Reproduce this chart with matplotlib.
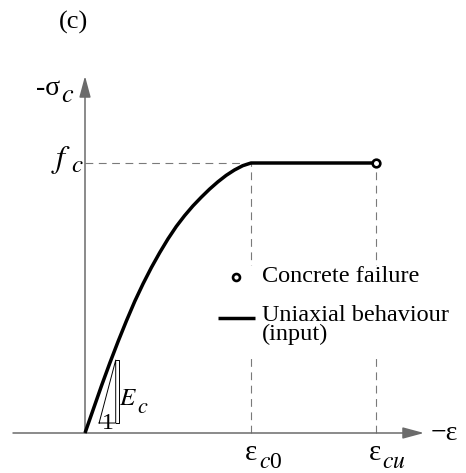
import matplotlib
matplotlib.use("Agg")
import matplotlib.pyplot as plt
from matplotlib.patches import Rectangle

plt.rcParams['font.family'] = ['Liberation Serif', 'DejaVu Serif']
plt.rcParams['mathtext.fontset'] = 'stix'

# uniaxial concrete law, strain in permille, stress normalised by f_c
strain = [0.0, 0.1, 0.2, 0.3, 0.4, 0.5, 0.6, 0.7, 0.8, 0.9, 1.0,
          1.1, 1.2, 1.3, 1.4, 1.5, 1.6, 1.7, 1.8, 1.9, 2.0, 3.5]
stress = [0.0, 0.088, 0.176, 0.26, 0.34, 0.416, 0.488, 0.553, 0.613, 0.668, 0.719,
          0.765, 0.805, 0.841, 0.873, 0.903, 0.93, 0.954, 0.974, 0.99, 1.0, 1.0]
eps_c0 = 2.0
eps_cu = 3.5
f_c = 1.0

# small stiffness triangle next to the initial branch
tri_eps = [0.17, 0.37, 0.37, 0.17]
tri_sig = [0.037, 0.27, 0.037, 0.037]

W, H = 466, 473
X0, SX = 85.0, 83.0     # pixel of zero strain, pixels per permille
Y0, SY = 433.0, 270.0   # pixel of zero stress, pixels per f_c


def px(x, y):
    return (x - X0) / SX, (Y0 - y) / SY


axis_col = '#6b6b6b'
dash_col = '#7a7a7a'

fig = plt.figure(figsize=(W / 100, H / 100), dpi=100)
ax = fig.add_axes([0, 0, 1, 1])
ax.set_xlim(px(0, 0)[0], px(W, 0)[0])
ax.set_ylim(px(0, H)[1], px(0, 0)[1])
ax.axis('off')

# axes with arrow heads
arr = dict(arrowstyle='-|>,head_length=1.3,head_width=0.35', color=axis_col,
           lw=1.1, shrinkA=0, shrinkB=0, mutation_scale=10)
ax.annotate('', xy=(px(424, 0)[0], 0), xytext=(px(13, 0)[0], 0), arrowprops=arr)
ax.annotate('', xy=(0, px(0, 76)[1]), xytext=(0, 0), arrowprops=arr)

# guide lines
dash = dict(color=dash_col, lw=0.8, ls=(0, (7, 5)), zorder=1)
ax.plot([0, eps_c0], [f_c, f_c], **dash)
ax.plot([eps_c0, eps_c0], [0, f_c], **dash)
ax.plot([eps_cu, eps_cu], [0, f_c], **dash)

# curve and failure point
ax.plot(strain, stress, color='black', lw=2.5, solid_joinstyle='round',
        solid_capstyle='butt', zorder=4)
ax.plot([eps_cu], [f_c], 'o', ms=5.5, mfc='white', mec='black', mew=1.9, zorder=5)

# stiffness triangle with bracket
ax.plot(tri_eps, tri_sig, color='black', lw=0.7, zorder=3)
bx = px(119, 0)[0]
ax.plot([tri_eps[1], bx, bx, tri_eps[1]], [tri_sig[1], tri_sig[1], tri_sig[2], tri_sig[2]],
        color='black', lw=0.7, zorder=3)

# legend
lx0, ly0 = px(212, 266)
lx1, ly1 = px(462, 356)
ax.add_patch(Rectangle((lx0, ly1), lx1 - lx0, ly0 - ly1, facecolor='white',
                       edgecolor='none', zorder=2))
ax.plot(*px(236, 277), 'o', ms=5, mfc='white', mec='black', mew=1.9, zorder=5)
ax.plot([px(218, 0)[0], px(255, 0)[0]], [px(0, 318)[1]] * 2, color='black', lw=2.5,
        solid_capstyle='butt', zorder=5)
ax.text(*px(262, 277), 'Concrete failure', fontsize=17.5, ha='left', va='center', zorder=5)
ax.text(*px(262, 325), 'Uniaxial behaviour\n(input)', fontsize=17.5, ha='left', va='center',
        linespacing=0.9, zorder=5)

# labels (italic symbols through mathtext)
ax.text(*px(74, 22), '(c)', fontsize=19, ha='center', va='center')
ax.text(*px(60, 95), '-σ', fontsize=20, ha='right', va='baseline')
ax.text(*px(61, 102), '$c$', fontsize=19, ha='left', va='baseline')
ax.text(*px(51, 167), '$f$', fontsize=23, ha='left', va='baseline')
ax.text(*px(71, 172), '$c$', fontsize=18, ha='left', va='baseline')

ax.text(*px(251, 460), 'ε', fontsize=21, ha='center', va='baseline')
ax.text(*px(259, 468), '$c$0', fontsize=17, ha='left', va='baseline')
ax.text(*px(375, 460), 'ε', fontsize=21, ha='center', va='baseline')
ax.text(*px(382, 468), '$cu$', fontsize=17, ha='left', va='baseline')
ax.text(*px(431, 433), '−ε', fontsize=20, ha='left', va='center')

ax.text(*px(119, 405), '$E$', fontsize=18, ha='left', va='baseline')
ax.text(*px(137, 413), '$c$', fontsize=16, ha='left', va='baseline')
ax.text(*px(108, 429), '1', fontsize=17, ha='center', va='baseline')

fig.savefig('out.png', dpi=100)
